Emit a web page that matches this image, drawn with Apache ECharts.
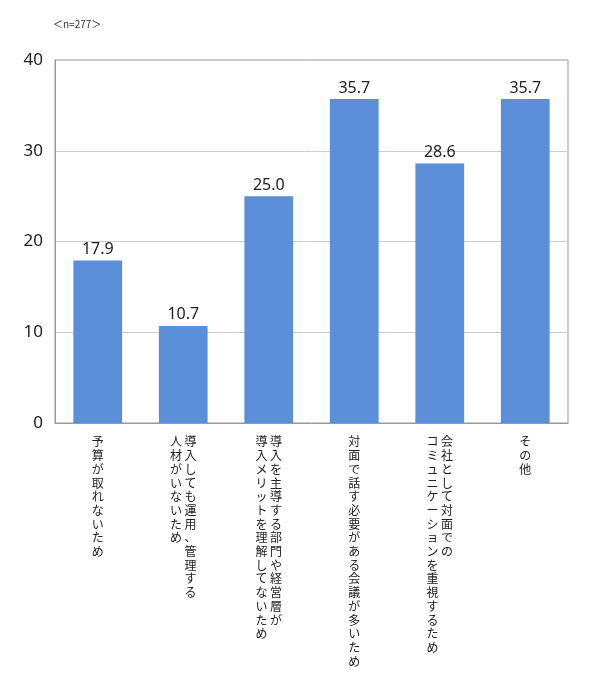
<!DOCTYPE html>
<html><head><meta charset="utf-8">
<script src="https://cdn.jsdelivr.net/npm/echarts@6/dist/echarts.min.js"></script>
<style>html,body{margin:0;padding:0;background:#fff}#c{width:590px;height:677px}</style>
</head><body><div id="c"></div>
<script>
const categories = [
  ["予算が取れないため"],
  ["導入しても運用、管理する","人材がいないため"],
  ["導入を主導する部門や経営層が","導入メリットを理解してないため"],
  ["対面で話す必要がある会議が多いため"],
  ["会社として対面での","コミュニケーションを重視するため"],
  ["その他"]
];
const values = [17.9, 10.7, 25.0, 35.7, 28.6, 35.7];
const yTicks = [0, 10, 20, 30, 40];

function vertical(cols) {
  const arrs = cols.map(c => Array.from(c));
  const n = Math.max(...arrs.map(a => a.length));
  const lines = [];
  for (let i = 0; i < n; i++) {
    let s = "";
    for (let j = arrs.length - 1; j >= 0; j--) {
      s += (arrs[j][i] || "　");
      if (j > 0) s += " ";
    }
    lines.push(s);
  }
  return lines.join("\n");
}

const chart = echarts.init(document.getElementById('c'));
chart.setOption({
  animation: false,
  title: { text: "＜n=277＞", left: 48, top: 14, textStyle: { fontSize: 10, fontWeight: 'normal', color: '#333', fontFamily: 'Noto Sans CJK JP' } },
  grid: { left: 55, right: 22, top: 60, bottom: 254, show: true, borderColor: '#999', borderWidth: 1 },
  xAxis: {
    type: 'category',
    data: categories.map((c, i) => i),
    axisLine: { lineStyle: { color: '#999' } },
    axisTick: { show: false },
    axisLabel: {
      interval: 0, margin: 12, verticalAlign: 'top',
      formatter: (v) => vertical(categories[+v]),
      fontSize: 12, lineHeight: 13.7, color: '#222', fontFamily: 'Noto Sans CJK JP'
    }
  },
  yAxis: {
    type: 'value', min: yTicks[0], max: yTicks[yTicks.length - 1], interval: 10,
    axisLine: { show: true, lineStyle: { color: '#999' } },
    axisTick: { show: false },
    splitLine: { lineStyle: { color: '#ccc' } },
    axisLabel: { fontSize: 17, color: '#222', margin: 12, fontFamily: 'Noto Sans' }
  },
  series: [{
    type: 'bar', data: values, barWidth: '57%',
    itemStyle: { color: '#5b8fd9' },
    label: { show: true, position: 'top', formatter: p => p.value.toFixed(1), fontSize: 16, color: '#222', fontFamily: 'Noto Sans', distance: 3 }
  }]
});
</script></body></html>
